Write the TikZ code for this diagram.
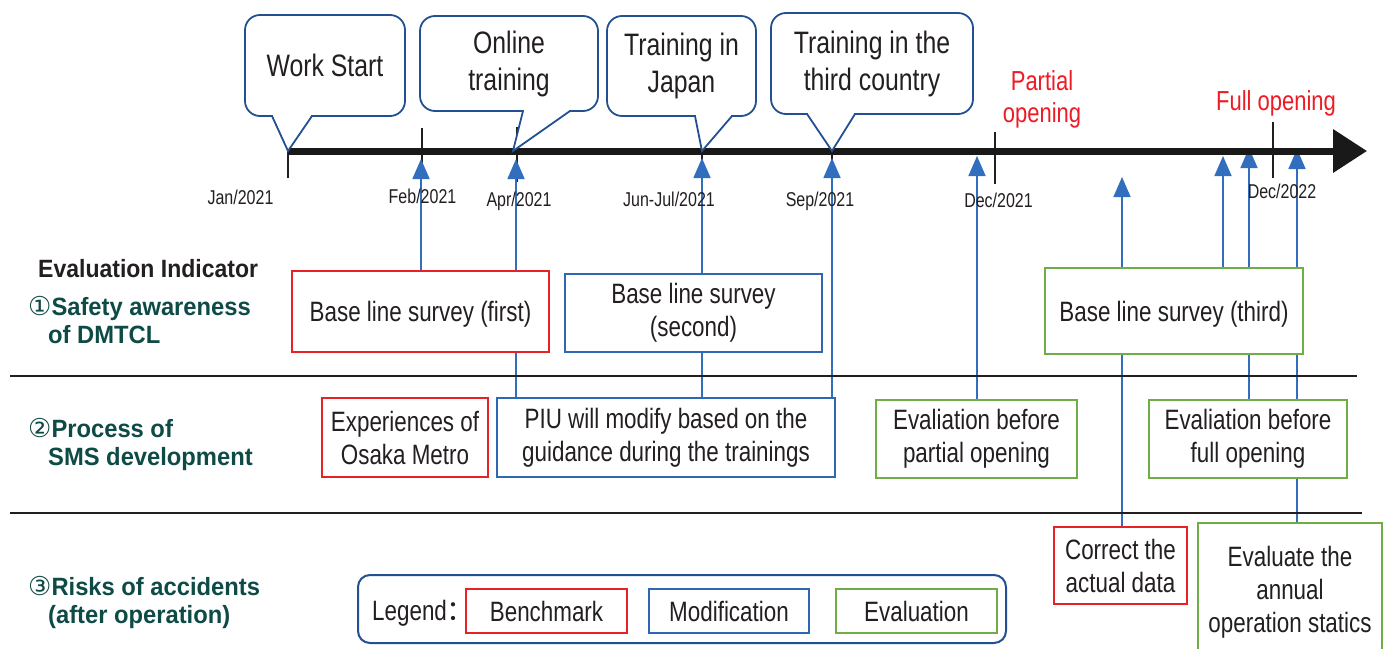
\documentclass[tikz,border=0pt]{standalone}
\usepackage{fontspec}
\setmainfont{Liberation Sans}[FakeStretch=0.8]
\newfontfamily\headfont{Liberation Sans}[FakeStretch=0.92]
\newfontfamily\rowfont{Liberation Sans}[FakeStretch=0.95]
\newfontfamily\circfont{DejaVu Sans}
\newfontfamily\cjkfont{Noto Sans CJK SC}
\usetikzlibrary{arrows.meta}
\pgfdeclarelayer{back}
\pgfsetlayers{back,main}

\definecolor{navy}{RGB}{35,80,145}
\definecolor{bblue}{RGB}{46,104,178}
\definecolor{lblue}{RGB}{50,110,190}
\definecolor{bred}{RGB}{232,33,39}
\definecolor{bgreen}{RGB}{112,173,71}
\definecolor{mred}{RGB}{237,28,36}
\definecolor{ink}{RGB}{35,31,32}
\definecolor{tealtext}{RGB}{14,75,70}

\tikzset{
  framebox/.style={draw, line width=2.6pt, fill=white, inner sep=0pt, outer sep=0pt,
    align=center, text=ink, font=\fontsize{28}{33}\selectfont},
  oneline/.style={text height=20pt, text depth=0pt},
  redbox/.style={framebox, draw=bred},
  bluebox/.style={framebox, draw=bblue},
  greenbox/.style={framebox, draw=bgreen},
  bubble/.style={draw=navy, line width=1.8pt, fill=white, rounded corners=15pt,
    inner sep=0pt, outer sep=0pt, align=center, text=ink, font=\fontsize{31}{37}\selectfont},
  tail/.style={draw=navy, line width=1.8pt, fill=white, line join=miter},
  datelbl/.style={anchor=base, inner sep=0pt, text=ink, font=\fontsize{20}{24}\selectfont},
  tickmark/.style={draw=ink, line width=2pt},
  feed/.style={draw=lblue, line width=1.6pt},
  uparrow/.style={feed, -{Triangle[length=20pt,width=17pt]}},
  milestone/.style={text=mred, align=center, inner sep=0pt, font=\fontsize{27.5}{32}\selectfont},
  rowlabel/.style={anchor=base west, inner sep=0pt, text=tealtext,
    font=\rowfont\bfseries\fontsize{25}{28}\selectfont},
  rowrule/.style={draw=ink, line width=2pt},
}

\begin{document}
\begin{tikzpicture}[x=1pt,y=-1pt]
\useasboundingbox (0,0) rectangle (1394,648);

% ---- timeline points ----
\coordinate (tlStart) at (288,151);
\coordinate (tlEnd) at (1367,151);
\coordinate (tJan) at (288,151);
\coordinate (tApr) at (513,151);
\coordinate (tJun) at (702,151);
\coordinate (tSep) at (832,151);

\coordinate (aFeb) at (421,159);
\coordinate (aApr) at (516,159);
\coordinate (aJun) at (702,158);
\coordinate (aSep) at (832,158);
\coordinate (aPart) at (977,156);
\coordinate (aCorr) at (1122,177);
\coordinate (aThird) at (1223,156);
\coordinate (aFull) at (1249,148);
\coordinate (aAnnual) at (1297,149);

% ---- boxes of the three indicator rows ----
\node[redbox, oneline, minimum width=257pt, minimum height=81pt] (bFirst) at (420.5,311.5) {Base line survey (first)};
\node[bluebox, minimum width=257pt, minimum height=78pt] (bSecond) at (693.5,313) {Base line survey\\(second)};
\node[greenbox, oneline, minimum width=258pt, minimum height=86pt] (bThird) at (1174,311) {Base line survey (third)};

\node[redbox, minimum width=166pt, minimum height=79pt] (eOsaka) at (405,437.5) {Experiences of\\Osaka Metro};
\node[bluebox, minimum width=338pt, minimum height=79pt] (mPIU) at (666,437.5) {PIU will modify based on the\\guidance during the trainings};
\node[greenbox, minimum width=201pt, minimum height=78pt] (vPart) at (976.5,439) {Evaliation before\\partial opening};
\node[greenbox, minimum width=198pt, minimum height=78pt] (vFull) at (1248,439) {Evaliation before\\full opening};

\node[redbox, minimum width=133pt, minimum height=77pt] (cCorr) at (1120.5,565.5) {Correct the\\actual data};
\begin{scope}
  \clip (0,0) rectangle (1394,648);
  \node[greenbox, minimum width=184pt, minimum height=138pt] (eAnnual) at (1290,592) {Evaluate the\\annual\\operation statics};
\end{scope}

% ---- paper, ticks and arrows, kept behind the boxes ----
\begin{pgfonlayer}{back}
  \fill[white] (0,0) rectangle (1394,648);

  \draw[tickmark] (288,123) -- (288,178);
  \draw[tickmark] (422,128) -- (422,176);
  \draw[tickmark] (517,127) -- (517,182);
  \draw[tickmark] (702,127) -- (702,180);
  \draw[tickmark] (832,131) -- (832,180);
  \draw[tickmark] (995,132) -- (995,184);
  \draw[tickmark] (1273,122) -- (1273,178);

  \draw[uparrow] (bFirst.north -| aFeb) -- (aFeb);
  \draw[uparrow] (mPIU.north -| aApr) -- (aApr);
  \draw[uparrow] (mPIU.north -| aJun) -- (aJun);
  \draw[uparrow] (mPIU.north -| aSep) -- (aSep);
  \draw[uparrow] (vPart.north -| aPart) -- (aPart);
  \draw[uparrow] (cCorr.north -| aCorr) -- (aCorr);
  \draw[uparrow] (bThird.north -| aThird) -- (aThird);
  \draw[uparrow] (vFull.north -| aFull) -- (aFull);
  \draw[uparrow] (eAnnual.north -| aAnnual) -- (aAnnual);
\end{pgfonlayer}

% ---- main timeline ----
\draw[line width=7pt, draw=black!90, -{Triangle[length=34pt,width=42pt]}] (tlStart) -- (tlEnd);

% ---- callouts ----
\node[bubble, minimum width=160pt, minimum height=101pt] (cWork) at (325,65.5) {Work Start};
\fill[white] ([xshift=28pt,yshift=-1.2pt]cWork.south west) rectangle ([xshift=66pt,yshift=1.2pt]cWork.south west);
\draw[tail] ([xshift=27pt]cWork.south west) -- (tJan) -- ([xshift=67pt]cWork.south west);

\node[bubble, minimum width=178pt, minimum height=95pt] (cOnline) at (509,63.5) {Online\\training};
\fill[white] ([xshift=104pt,yshift=-1.2pt]cOnline.south west) rectangle ([xshift=149pt,yshift=1.2pt]cOnline.south west);
\draw[tail] ([xshift=103pt]cOnline.south west) -- (tApr) -- ([xshift=150pt]cOnline.south west);

\node[bubble, minimum width=149pt, minimum height=100pt] (cJapan) at (681.5,66) {Training in\\Japan};
\fill[white] ([xshift=89pt,yshift=-1.2pt]cJapan.south west) rectangle ([xshift=124pt,yshift=1.2pt]cJapan.south west);
\draw[tail] ([xshift=88pt]cJapan.south west) -- (tJun) -- ([xshift=125pt]cJapan.south west);

\node[bubble, minimum width=202pt, minimum height=101pt] (cThird) at (872,63.5) {Training in the\\third country};
\fill[white] ([xshift=37pt,yshift=-1.2pt]cThird.south west) rectangle ([xshift=83pt,yshift=1.2pt]cThird.south west);
\draw[tail] ([xshift=36pt]cThird.south west) -- (tSep) -- ([xshift=84pt]cThird.south west);

% ---- dates ----
\node[datelbl] (dJan) at (240.5,204) {Jan/2021};
\node[datelbl] (dFeb) at (422.5,203) {Feb/2021};
\node[datelbl] (dApr) at (519,206) {Apr/2021};
\node[datelbl] (dJun) at (669,206) {Jun-Jul/2021};
\node[datelbl] (dSep) at (820,206) {Sep/2021};
\node[datelbl] (dDec1) at (998.5,207) {Dec/2021};
\node[datelbl] (dDec2) at (1282,198) {Dec/2022};

% ---- openings ----
\node[milestone] (mPartial) at (1042,99) {Partial\\opening};
\node[milestone] (mFull) at (1276,103) {Full opening};

% ---- row labels and rules ----
\node[anchor=base west, inner sep=0pt, text=ink, font=\headfont\bfseries\fontsize{25}{28}\selectfont] (hdr) at (38,277) {Evaluation Indicator};
\node[rowlabel] (r1) at (28,315) {\begin{tabular}[t]{@{}l@{}}{\circfont\mdseries\fontsize{26}{28}\selectfont ①}Safety awareness\\\hspace*{20pt}of DMTCL\end{tabular}};
\node[rowlabel] (r2) at (28,437) {\begin{tabular}[t]{@{}l@{}}{\circfont\mdseries\fontsize{26}{28}\selectfont ②}Process of\\\hspace*{20pt}SMS development\end{tabular}};
\node[rowlabel] (r3) at (28,595) {\begin{tabular}[t]{@{}l@{}}{\circfont\mdseries\fontsize{26}{28}\selectfont ③}Risks of accidents\\\hspace*{20pt}(after operation)\end{tabular}};

\draw[rowrule] (10,376) -- (1357,376);
\draw[rowrule] (10,513) -- (1362,513);

% ---- legend ----
\node[draw=navy, line width=2pt, rounded corners=12pt, minimum width=648pt, minimum height=68pt, outer sep=0pt, inner sep=0pt] (legend) at (682,609) {};
\node[anchor=base west, inner sep=0pt, text=ink, font=\fontsize{28}{33}\selectfont] (legTxt) at (372,620) {Legend{\cjkfont ：}};
\node[redbox, minimum width=161pt, minimum height=44pt] (lgB) at (546.5,611) {Benchmark};
\node[bluebox, minimum width=160pt, minimum height=44pt] (lgM) at (729,611) {Modification};
\node[greenbox, minimum width=161pt, minimum height=44pt] (lgE) at (916.5,611) {Evaluation};
\end{tikzpicture}
\end{document}
